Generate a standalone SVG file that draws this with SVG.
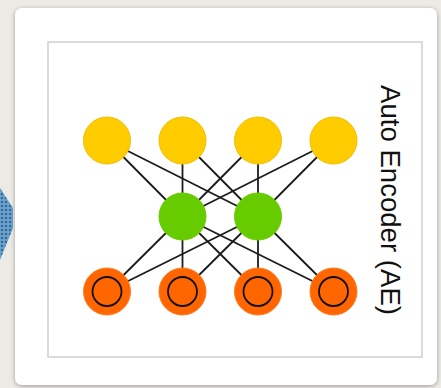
<svg xmlns="http://www.w3.org/2000/svg" width="441" height="388" viewBox="0 0 441 388">
<defs>
<style>
.edge{stroke:#1c1c1c;stroke-width:1.8;fill:none}
.in{fill:#ffcc00;stroke:#f2bd00;stroke-width:1}
.hid{fill:#66cc00;stroke:#66cc00;stroke-width:1}
.out{fill:#ff6600;stroke:#ff7a1f;stroke-width:1}
.ring{fill:none;stroke:#111;stroke-width:1.8}
.lbl{font-family:"Liberation Sans",Arial,sans-serif;font-size:27px;fill:#111}
</style>
<pattern id="dots" width="4" height="4" patternUnits="userSpaceOnUse">
<rect width="4" height="4" fill="#6fa3cc"/>
<circle cx="2" cy="2" r="1.3" fill="#2f6f9f"/>
</pattern>
<filter id="sh" x="-10%" y="-10%" width="120%" height="120%">
<feDropShadow dx="0" dy="1" stdDeviation="2" flood-color="#000" flood-opacity="0.35"/>
</filter>
</defs>
<rect width="441" height="388" fill="#ebeae4"/>
<polygon points="0,188 13,208 13,228 0,260" fill="url(#dots)"/>
<rect x="15" y="8" width="422" height="377" rx="7" fill="#ffffff" filter="url(#sh)"/>
<rect x="48" y="42" width="374" height="315" fill="#ffffff" stroke="#cfcfcf" stroke-width="1.5"/>
<g id="connectors">
<line class="edge" x1="107" y1="140.5" x2="182.5" y2="216.5"/>
<line class="edge" x1="107" y1="140.5" x2="258" y2="216.5"/>
<line class="edge" x1="182.5" y1="140.5" x2="182.5" y2="216.5"/>
<line class="edge" x1="182.5" y1="140.5" x2="258" y2="216.5"/>
<line class="edge" x1="258" y1="140.5" x2="182.5" y2="216.5"/>
<line class="edge" x1="258" y1="140.5" x2="258" y2="216.5"/>
<line class="edge" x1="333.5" y1="140.5" x2="182.5" y2="216.5"/>
<line class="edge" x1="333.5" y1="140.5" x2="258" y2="216.5"/>
<line class="edge" x1="182.5" y1="216.5" x2="107" y2="291.5"/>
<line class="edge" x1="182.5" y1="216.5" x2="182.5" y2="291.5"/>
<line class="edge" x1="182.5" y1="216.5" x2="258" y2="291.5"/>
<line class="edge" x1="182.5" y1="216.5" x2="333.5" y2="291.5"/>
<line class="edge" x1="258" y1="216.5" x2="107" y2="291.5"/>
<line class="edge" x1="258" y1="216.5" x2="182.5" y2="291.5"/>
<line class="edge" x1="258" y1="216.5" x2="258" y2="291.5"/>
<line class="edge" x1="258" y1="216.5" x2="333.5" y2="291.5"/>
</g>
<g id="in1"><circle class="in" cx="107" cy="140.5" r="23.5"/></g>
<g id="in2"><circle class="in" cx="182.5" cy="140.5" r="23.5"/></g>
<g id="in3"><circle class="in" cx="258" cy="140.5" r="23.5"/></g>
<g id="in4"><circle class="in" cx="333.5" cy="140.5" r="23.5"/></g>
<g id="h1"><circle class="hid" cx="182.5" cy="216.5" r="23.5"/></g>
<g id="h2"><circle class="hid" cx="258" cy="216.5" r="23.5"/></g>
<g id="out1"><circle class="out" cx="107" cy="291.5" r="23.5"/><circle class="ring" cx="107" cy="291.5" r="14.5"/></g>
<g id="out2"><circle class="out" cx="182.5" cy="291.5" r="23.5"/><circle class="ring" cx="182.5" cy="291.5" r="14.5"/></g>
<g id="out3"><circle class="out" cx="258" cy="291.5" r="23.5"/><circle class="ring" cx="258" cy="291.5" r="14.5"/></g>
<g id="out4"><circle class="out" cx="333.5" cy="291.5" r="23.5"/><circle class="ring" cx="333.5" cy="291.5" r="14.5"/></g>
<g id="title"><text class="lbl" transform="translate(380.5,85) rotate(90)" textLength="230" lengthAdjust="spacingAndGlyphs">Auto Encoder (AE)</text></g>
</svg>
